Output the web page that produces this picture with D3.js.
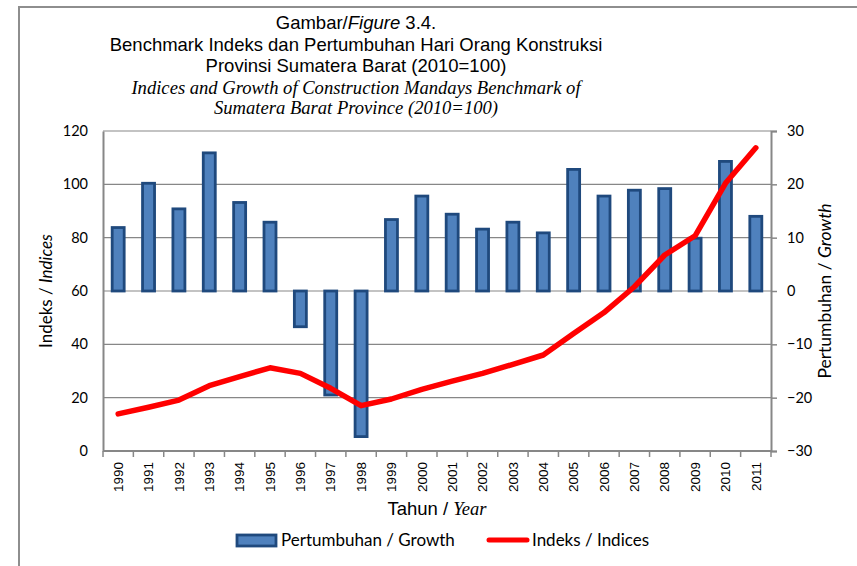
<!DOCTYPE html>
<html>
<head>
<meta charset="utf-8">
<script src="https://cdn.jsdelivr.net/npm/d3@7/dist/d3.min.js"></script>
<style>
  body { margin: 0; background: #fff; }
  svg { display: block; }
</style>
</head>
<body>
<div id="chart"></div>
<script>
"use strict";

const years = ["1990", "1991", "1992", "1993", "1994", "1995", "1996", "1997",
               "1998", "1999", "2000", "2001", "2002", "2003", "2004", "2005",
               "2006", "2007", "2008", "2009", "2010", "2011"];
// Pertumbuhan / Growth (%), right axis
const growth = [11.9, 20.2, 15.4, 25.9, 16.6, 12.9, -6.7, -19.5, -27.3, 13.4, 17.8,
                14.4, 11.6, 12.9, 10.9, 22.8, 17.8, 18.9, 19.2, 9.9, 24.3, 14.0];
// Indeks / Indices (2010=100), left axis
const indices = [13.9, 16.4, 19.1, 24.5, 27.9, 31.2, 29.1, 23.5, 17.0, 19.5, 23.1,
                 26.2, 29.1, 32.5, 36.0, 44.1, 51.9, 61.6, 73.5, 80.7, 100.4, 113.7];
const leftTicks = [0, 20, 40, 60, 80, 100, 120];
const rightTicks = [-30, -20, -10, 0, 10, 20, 30];

const W = 857, H = 566;
const plot = { left: 103, top: 131, right: 771, bottom: 451 };

const sans = "'Liberation Sans', Arial, sans-serif";
const narrow = "'Liberation Sans Narrow', 'Arial Narrow', 'Liberation Sans', sans-serif";
const serif = "'Liberation Serif', 'Times New Roman', serif";
const calibri = "Lato, 'Open Sans', sans-serif";
const grey = "#878787";

const svg = d3.select("#chart").append("svg")
              .attr("width", W)
              .attr("height", H);

// outer frame (only top and left edges are in view)
svg.append("path")
   .attr("d", `M19,${H} V7 H${W}`)
   .attr("fill", "none")
   .attr("stroke", "#8e8e8e")
   .attr("stroke-width", 2);

const xScale = d3.scaleBand()
                 .domain(years)
                 .range([plot.left, plot.right]);
const yLeft = d3.scaleLinear()
                .domain([0, 120])
                .range([plot.bottom, plot.top]);
const yRight = d3.scaleLinear()
                 .domain([-30, 30])
                 .range([plot.bottom, plot.top]);

// title
const title = svg.append("g")
                 .attr("text-anchor", "middle")
                 .attr("fill", "#000");
const t1 = title.append("text")
                .attr("x", 356).attr("y", 29)
                .style("font-family", sans)
                .style("font-size", "18.5px");
t1.append("tspan").text("Gambar/");
t1.append("tspan").style("font-style", "italic").text("Figure");
t1.append("tspan").text(" 3.4.");
title.append("text")
     .attr("x", 356).attr("y", 51)
     .style("font-family", sans)
     .style("font-size", "18.5px")
     .text("Benchmark Indeks dan Pertumbuhan Hari Orang Konstruksi");
title.append("text")
     .attr("x", 356).attr("y", 72)
     .style("font-family", sans)
     .style("font-size", "18.5px")
     .text("Provinsi Sumatera Barat (2010=100)");
title.append("text")
     .attr("x", 356).attr("y", 94)
     .style("font-family", serif)
     .style("font-style", "italic")
     .style("font-size", "18.6px")
     .text("Indices and Growth of Construction Mandays Benchmark of");
title.append("text")
     .attr("x", 356).attr("y", 114)
     .style("font-family", serif)
     .style("font-style", "italic")
     .style("font-size", "18.6px")
     .text("Sumatera Barat Province (2010=100)");

// gridlines
svg.append("g")
   .selectAll("line")
   .data(leftTicks)
   .join("line")
   .attr("x1", plot.left)
   .attr("x2", plot.right)
   .attr("y1", d => yLeft(d))
   .attr("y2", d => yLeft(d))
   .attr("stroke", grey)
   .attr("stroke-width", 1.2);

// left axis
const leftAxis = svg.append("g")
                    .attr("transform", `translate(${plot.left},0)`)
                    .call(d3.axisLeft(yLeft).tickValues(leftTicks).tickSize(0).tickPadding(15));
// right axis
const rightAxis = svg.append("g")
                     .attr("transform", `translate(${plot.right},0)`)
                     .call(d3.axisRight(yRight).tickValues(rightTicks).tickSize(6).tickPadding(10));
// bottom axis, ticks between the categories
const bottomAxis = svg.append("g")
                      .attr("transform", `translate(0,${plot.bottom})`)
                      .call(d3.axisBottom(xScale).tickSize(0).tickPadding(10));

[leftAxis, rightAxis, bottomAxis].forEach(a => {
    a.select(".domain").attr("stroke", grey).attr("stroke-width", 2);
    a.selectAll(".tick line").attr("stroke", grey).attr("stroke-width", 1.5);
    a.selectAll(".tick text").attr("fill", "#000");
});
leftAxis.selectAll(".tick text")
        .style("font-family", calibri)
        .style("font-size", "14.5px");
rightAxis.selectAll(".tick text")
         .style("font-family", calibri)
         .style("font-size", "14.5px");
bottomAxis.selectAll(".tick text")
          .style("font-family", narrow)
          .style("font-size", "13.5px")
          .attr("text-anchor", "end")
          .attr("dy", "0.35em")
          .attr("transform", "rotate(-90) translate(-11,0)")
          .attr("x", 0)
          .attr("y", 0);
bottomAxis.select(".domain").attr("d", `M${plot.left},0H${plot.right}`);
bottomAxis.selectAll(".sep")
          .data(years.concat(["end"]))
          .join("line")
          .attr("class", "sep")
          .attr("x1", (d, i) => i < years.length ? xScale(d) : plot.right)
          .attr("x2", (d, i) => i < years.length ? xScale(d) : plot.right)
          .attr("y1", 0)
          .attr("y2", 6)
          .attr("stroke", grey)
          .attr("stroke-width", 1.5);

// bars
const barW = 12;
svg.append("g")
   .selectAll("rect")
   .data(years.map((y, i) => ({ year: y, v: growth[i] })))
   .join("rect")
   .attr("x", d => xScale(d.year) + xScale.bandwidth() / 2 - barW / 2)
   .attr("y", d => yRight(Math.max(0, d.v)))
   .attr("width", barW)
   .attr("height", d => Math.abs(yRight(d.v) - yRight(0)))
   .attr("fill", "#4f81bd")
   .attr("stroke", "#1f497d")
   .attr("stroke-width", 2.8);

// index line
const line = d3.line()
               .x((d, i) => xScale(years[i]) + xScale.bandwidth() / 2)
               .y(d => yLeft(d));
svg.append("path")
   .datum(indices)
   .attr("d", line)
   .attr("fill", "none")
   .attr("stroke", "#ff0000")
   .attr("stroke-width", 5.5)
   .attr("stroke-linejoin", "round")
   .attr("stroke-linecap", "round");

// axis titles
const yl = svg.append("text")
              .attr("transform", `translate(52,${(plot.top + plot.bottom) / 2}) rotate(-90)`)
              .attr("text-anchor", "middle")
              .style("font-family", calibri)
              .style("font-size", "17px");
yl.append("tspan").text("Indeks / ");
yl.append("tspan").style("font-style", "italic").text("Indices");

const yr = svg.append("text")
              .attr("transform", `translate(831,${(plot.top + plot.bottom) / 2}) rotate(-90)`)
              .attr("text-anchor", "middle")
              .style("font-family", calibri)
              .style("font-size", "17.5px");
yr.append("tspan").text("Pertumbuhan / ");
yr.append("tspan").style("font-style", "italic").text("Growth");

const xl = svg.append("text")
              .attr("x", (plot.left + plot.right) / 2)
              .attr("y", 515)
              .attr("text-anchor", "middle")
              .style("font-size", "18.5px");
xl.append("tspan").style("font-family", narrow).text("Tahun / ");
xl.append("tspan").style("font-family", serif).style("font-style", "italic").text("Year");

// legend
const legend = svg.append("g")
                  .style("font-family", calibri)
                  .style("font-size", "17px");
legend.append("rect")
      .attr("x", 237).attr("y", 535)
      .attr("width", 39).attr("height", 11)
      .attr("fill", "#4f81bd")
      .attr("stroke", "#1f497d")
      .attr("stroke-width", 2.8);
legend.append("text")
      .attr("x", 281).attr("y", 546)
      .text("Pertumbuhan / Growth");
legend.append("line")
      .attr("x1", 489).attr("x2", 527)
      .attr("y1", 540).attr("y2", 540)
      .attr("stroke", "#ff0000")
      .attr("stroke-width", 5)
      .attr("stroke-linecap", "round");
legend.append("text")
      .attr("x", 532).attr("y", 546)
      .text("Indeks / Indices");
</script>
</body>
</html>
